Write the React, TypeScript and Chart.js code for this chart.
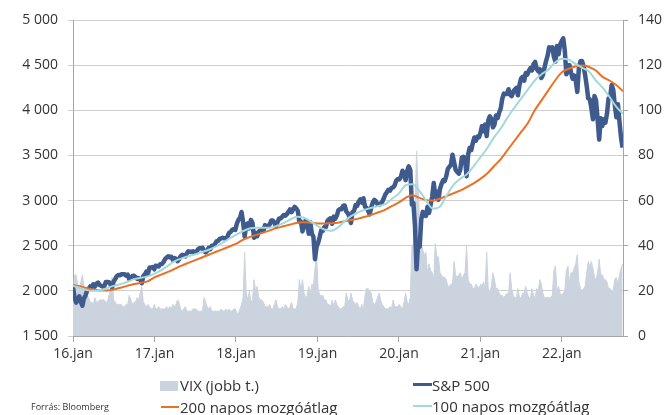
import React, { useEffect, useRef } from 'react';
import { Chart, registerables } from 'chart.js';

Chart.register(...registerables);

// X-axis tick years (labels "16.jan" ... "22.jan")
const tickYears = [2016, 2017, 2018, 2019, 2020, 2021, 2022];
// day-of-year of first weekly close in each year
const firstDay = [0, 5, 4, 3, 2, 7, 6];

// S&P 500 weekly closes
const spx16 = [2044,1922,1870,1907,1940,1880,1835,1917,1948,1999,2022,2049,2035,2073,2047,2081,2092,2065,2057,2047,2052,2099,2099,2096,2071,2037,2103,2130,2162,2175,2174,2183,2184,2184,2169,2180,2128,2139,2165,2168,2153,2133,2141,2126,2085,2164,2182,2213,2192,2259,2258,2264,2239];
const spx17 = [2277,2275,2271,2295,2297,2316,2351,2367,2383,2373,2378,2344,2363,2355,2329,2349,2384,2399,2391,2382,2416,2439,2432,2433,2438,2423,2425,2459,2473,2472,2477,2441,2426,2443,2477,2461,2500,2502,2519,2549,2553,2575,2581,2588,2582,2579,2602,2642,2652,2676,2683,2674];
const spx18 = [2743,2786,2810,2873,2762,2600,2732,2747,2691,2786,2752,2588,2641,2604,2656,2670,2670,2663,2728,2713,2721,2735,2779,2780,2755,2718,2760,2801,2802,2819,2840,2833,2850,2875,2902,2872,2905,2930,2914,2885,2767,2768,2659,2723,2781,2736,2633,2760,2633,2600,2351,2486];
const spx19 = [2532,2596,2671,2665,2707,2708,2776,2793,2804,2743,2822,2800,2834,2893,2907,2905,2940,2946,2881,2860,2826,2752,2873,2887,2950,2942,2990,3014,2977,3026,2932,2919,2889,2847,2926,2979,3007,2992,2962,2952,2970,2986,3023,3067,3093,3120,3110,3141,3146,3169,3221,3240];
const spx20 = [3235,3265,3330,3295,3226,3328,3380,3338,2954,2972,2711,2240,2541,2489,2790,2875,2837,2831,2930,2864,2955,3044,3194,3041,3098,3009,3130,3185,3225,3216,3271,3351,3373,3397,3508,3427,3341,3319,3298,3348,3477,3484,3465,3270,3510,3585,3558,3638,3699,3663,3709,3703,3756];
const spx21 = [3825,3768,3841,3714,3887,3934,3907,3811,3842,3943,3913,3975,4020,4129,4185,4180,4181,4233,4174,4156,4204,4230,4247,4166,4281,4352,4370,4327,4412,4395,4437,4468,4442,4509,4535,4459,4433,4455,4357,4391,4471,4545,4605,4698,4683,4698,4595,4538,4712,4620,4726,4766];
const spx22 = [4797,4663,4398,4432,4500,4419,4349,4385,4329,4204,4463,4543,4546,4488,4393,4272,4132,4123,4024,3901,4158,4109,3901,3675,3912,3825,3899,3863,3962,4130,4145,4280,4228,4058,3924,4067,3873,3693,3586];

// VIX weekly
const vix16 = [18,27,27,23,21,24,27,22,20,18,17,15,15,14,17,15,15,16,16,16,16,15,15,18,20,26,16,15,14,14,14,14,13,13,14,14,18,16,14,15,15,17,16,19,22,15,14,13,14,13,12,12,14];
const vix17 = [12,12,13,12,12,12,12,13,12,13,12,14,13,14,16,15,12,11,12,13,11,11,11,11,12,12,12,11,11,11,11,17,15,13,12,13,11,11,11,11,11,11,12,11,11,12,11,12,11,11,12,12];
const vix18 = [10,10,12,14,17,37,19,16,20,15,16,25,20,22,17,16,16,15,13,13,13,14,12,12,14,16,13,12,12,13,12,14,13,12,13,15,12,12,12,15,25,20,25,19,17,18,22,18,23,22,30,36];
const vix19 = [21,18,18,18,16,16,14,14,13,16,13,16,14,13,12,12,13,13,19,16,15,19,16,15,14,15,13,12,14,12,18,21,21,20,19,15,14,15,17,19,16,14,13,12,12,12,13,12,16,13,13,13];
const vix20 = [14,13,12,15,19,15,14,17,40,41,57,82,66,50,41,38,36,37,28,32,29,28,25,41,35,35,28,27,26,26,25,22,22,23,23,33,27,26,27,28,25,27,28,40,25,23,23,21,21,23,22,21,23];
const vix21 = [22,24,21,37,21,19,22,28,25,21,21,19,18,18,17,18,19,18,28,21,18,17,17,21,17,17,19,19,22,19,17,17,21,18,17,21,20,25,23,19,17,17,17,17,17,18,29,31,20,22,19,18];
const vix22 = [19,20,29,31,23,28,28,30,32,36,24,21,20,21,22,28,33,31,33,30,26,25,28,34,27,27,25,25,24,21,21,20,20,25,26,23,27,30,32];

// Moving averages, monthly (Jan 2016 .. Oct 2022)
const ma200 = [
  2064,2050,2030,2015,2005,2005,2015,2035,2055,2075,2090,2105,
  2150,2180,2210,2245,2280,2310,2340,2370,2400,2430,2460,2490,
  2520,2565,2595,2620,2645,2670,2695,2715,2735,2755,2760,2755,
  2745,2745,2750,2755,2770,2785,2800,2820,2845,2870,2900,2940,
  2980,3030,3060,3030,3005,3000,3020,3050,3080,3110,3150,3190,
  3240,3300,3380,3460,3560,3660,3760,3860,4000,4110,4220,4330,
  4420,4460,4485,4495,4480,4440,4370,4330,4280,4210
];
const ma100 = [
  2055,2035,2010,2000,2005,2030,2055,2075,2100,2130,2145,2160,
  2190,2230,2280,2330,2360,2385,2405,2430,2455,2490,2530,2580,
  2620,2660,2690,2700,2700,2700,2720,2750,2790,2820,2810,2770,
  2720,2680,2665,2700,2770,2830,2870,2900,2920,2940,2960,3020,
  3080,3170,3180,3110,3000,2910,2930,3050,3170,3240,3290,3380,
  3480,3580,3700,3800,3920,4030,4130,4230,4330,4400,4450,4530,
  4570,4560,4515,4470,4430,4330,4250,4150,4040,3962
];

const legendLabels = ['VIX (jobb t.)', 'S&P 500', '200 napos mozgóátlag', '100 napos mozgóátlag'];
const sourceText = 'Forrás: Bloomberg';

const C_SPX = '#3f5a8c';
const C_VIX = '#cbd3de';
const C_200 = '#ec7022';
const C_100 = '#a3d9da';
const FONT = '"Open Sans", "Noto Sans", sans-serif';

function weekly(years: number[][]) {
  const pts: { x: number; y: number }[] = [];
  years.forEach((arr, k) =>
    arr.forEach((v, i) => pts.push({ x: tickYears[0] + k + (firstDay[k] + 7 * i) / 365, y: v }))
  );
  return pts;
}
function monthly(arr: number[]) {
  return arr.map((v, i) => ({ x: tickYears[0] + i / 12, y: v }));
}
function fmt(v: number) {
  if (v >= 1000) return `${Math.floor(v / 1000)} ${String(v % 1000).padStart(3, '0')}`;
  return `${v}`;
}

export default function App() {
  const ref = useRef<HTMLCanvasElement>(null);
  useEffect(() => {
    document.body.style.margin = '0';
    const spx = weekly([spx16, spx17, spx18, spx19, spx20, spx21, spx22]);
    const vix = weekly([vix16, vix17, vix18, vix19, vix20, vix21, vix22]);
    const chart = new Chart(ref.current as HTMLCanvasElement, {
      type: 'line',
      data: {
        datasets: [
          { label: '100', data: monthly(ma100), borderColor: C_100, borderWidth: 2, pointRadius: 0, cubicInterpolationMode: 'monotone', yAxisID: 'y', order: 0 },
          { label: '200', data: monthly(ma200), borderColor: C_200, borderWidth: 2, pointRadius: 0, cubicInterpolationMode: 'monotone', yAxisID: 'y', order: 1 },
          { label: 'spx', data: spx, borderColor: C_SPX, borderWidth: 4.5, pointRadius: 0, tension: 0, borderJoinStyle: 'round', yAxisID: 'y', order: 2 },
          { label: 'vix', data: vix, borderColor: C_VIX, backgroundColor: C_VIX, borderWidth: 1, pointRadius: 0, tension: 0, fill: 'origin', yAxisID: 'y1', order: 3 },
        ] as any,
      },
      options: {
        animation: false,
        responsive: false,
        maintainAspectRatio: false,
        layout: { padding: { top: 20, right: 0, bottom: 0, left: 0 } },
        plugins: { legend: { display: false }, tooltip: { enabled: false } },
        scales: {
          x: {
            type: 'linear',
            min: 2016,
            max: 2022.75,
            afterBuildTicks: (s: any) => { s.ticks = tickYears.map((v) => ({ value: v })); },
            afterFit: (s: any) => { s.height = 79; },
            grid: { drawOnChartArea: false, drawTicks: true, tickLength: 6, color: '#a6a6a6' },
            border: { color: '#a6a6a6' },
            ticks: { padding: 4, maxRotation: 0, autoSkip: false, color: '#333', font: { family: FONT, size: 14 }, callback: (v: any) => `${Number(v) - 2000}.jan` },
          },
          y: {
            position: 'left',
            min: 1500,
            max: 5000,
            afterFit: (s: any) => { s.width = 73; },
            grid: { color: '#cfcfcf', tickLength: 5 },
            border: { color: '#a6a6a6' },
            ticks: { stepSize: 500, padding: 10, color: '#333', font: { family: FONT, size: 14 }, callback: (v: any) => fmt(Number(v)) },
          },
          y1: {
            position: 'right',
            min: 0,
            max: 140,
            afterFit: (s: any) => { s.width = 41; },
            grid: { drawOnChartArea: false, tickLength: 5, color: '#a6a6a6' },
            border: { color: '#a6a6a6' },
            ticks: { stepSize: 20, padding: 10, color: '#333', font: { family: FONT, size: 14 } },
          },
        },
      } as any,
    });
    return () => chart.destroy();
  }, []);

  const txt: React.CSSProperties = { position: 'absolute', fontFamily: FONT, fontSize: 15, color: '#333', lineHeight: '18px', whiteSpace: 'nowrap' };
  return (
    <div style={{ position: 'relative', width: 664, height: 415, background: '#fff', overflow: 'hidden' }}>
      <canvas ref={ref} width={664} height={415} style={{ display: 'block', width: 664, height: 415 }} />
      <div style={{ position: 'absolute', left: 160, top: 381, width: 18, height: 10, background: C_VIX }} />
      <div style={{ ...txt, left: 180, top: 376 }}>{legendLabels[0]}</div>
      <div style={{ position: 'absolute', left: 413, top: 383, width: 19, height: 3, background: C_SPX }} />
      <div style={{ ...txt, left: 432, top: 376 }}>{legendLabels[1]}</div>
      <div style={{ position: 'absolute', left: 161, top: 406, width: 18, height: 2, background: C_200 }} />
      <div style={{ ...txt, left: 180, top: 398 }}>{legendLabels[2]}</div>
      <div style={{ position: 'absolute', left: 413, top: 405, width: 19, height: 2, background: C_100 }} />
      <div style={{ ...txt, left: 432, top: 397 }}>{legendLabels[3]}</div>
      <div style={{ ...txt, left: 31, top: 401, fontSize: 9, lineHeight: '12px' }}>{sourceText}</div>
    </div>
  );
}
